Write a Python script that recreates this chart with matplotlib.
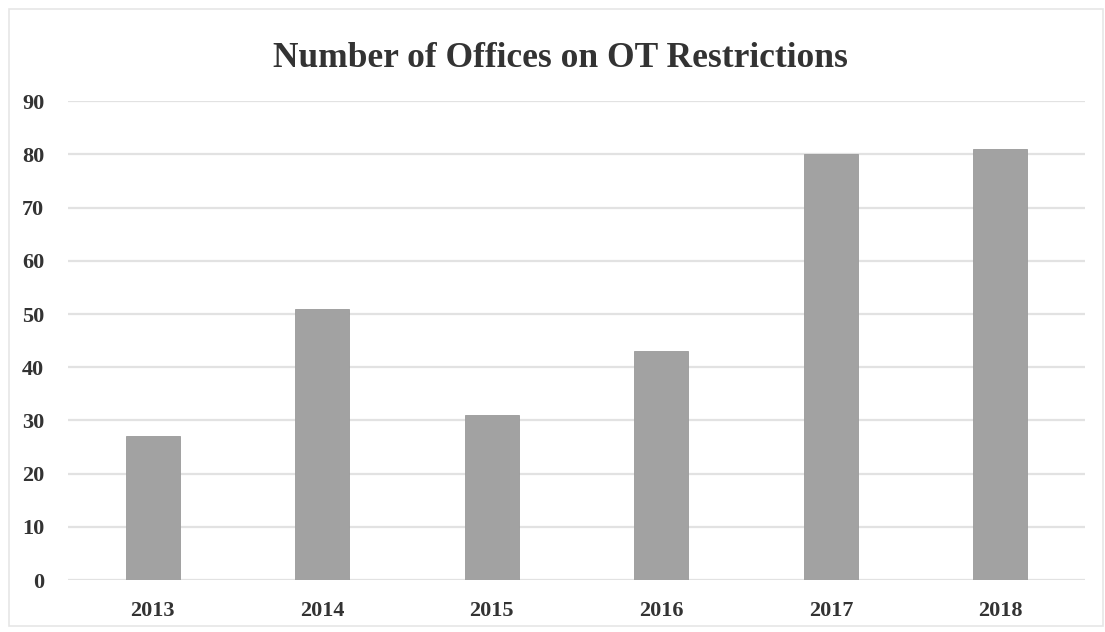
import matplotlib.pyplot as plt

years = ["2013", "2014", "2015", "2016", "2017", "2018"]
offices = [27, 51, 31, 43, 80, 81]
yticks = list(range(0, 100, 10))

plt.rcParams["font.family"] = "Liberation Serif"
plt.rcParams["font.weight"] = "bold"

fig = plt.figure(figsize=(11.05, 6.32), dpi=100)
ax = fig.add_axes([0.0615, 0.082, 0.9205, 0.758])

ax.bar(years, offices, width=0.32, color="#a2a2a2", edgecolor="#9a9a9a", linewidth=0.6, zorder=3)

ax.set_ylim(0, 90)
ax.set_xlim(-0.5, 5.5)
ax.set_yticks(yticks)
ax.grid(axis="y", color="#e2e2e2", linewidth=1.6, zorder=0)
ax.tick_params(axis="both", length=0, labelsize=16, colors="#333333")
ax.tick_params(axis="y", pad=17)
ax.tick_params(axis="x", pad=15)
for s in ax.spines.values():
    s.set_visible(False)

fig.text(0.507, 0.908, "Number of Offices on OT Restrictions", ha="center", va="center",
         fontsize=25.5, fontweight="bold", color="#333333")

# thin frame around the chart area
fig.add_artist(plt.Rectangle((0.008, 0.01), 0.99, 0.975, transform=fig.transFigure,
                             fill=False, edgecolor="#e6e6e6", linewidth=1.2))

fig.savefig("out.png", dpi=100)
